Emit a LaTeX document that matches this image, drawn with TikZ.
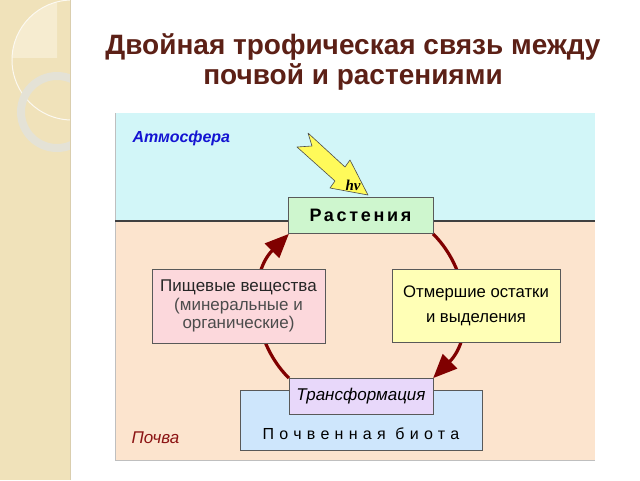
\documentclass[tikz,border=0pt]{standalone}
\usepackage{fontspec}
\setmainfont{Liberation Sans}
\newfontfamily\spacedfont[LetterSpace=15]{Liberation Sans}
\newfontfamily\widefont[LetterSpace=33]{Liberation Sans}
\newfontfamily\serifit{Liberation Serif}
\usetikzlibrary{arrows.meta}
\definecolor{stripbg}{RGB}{240,226,186}
\definecolor{stripli}{RGB}{246,236,208}
\definecolor{ringc}{RGB}{228,226,214}
\definecolor{atmbg}{RGB}{210,246,248}
\definecolor{soilbg}{RGB}{252,228,206}
\definecolor{plantc}{RGB}{206,246,206}
\definecolor{pinkc}{RGB}{252,216,220}
\definecolor{yellowc}{RGB}{255,255,182}
\definecolor{biotac}{RGB}{206,230,252}
\definecolor{transc}{RGB}{232,216,250}
\definecolor{titlec}{RGB}{92,32,22}
\definecolor{arrc}{RGB}{128,0,0}
\definecolor{atmtext}{RGB}{20,20,210}
\definecolor{soiltext}{RGB}{140,20,20}
\definecolor{boltc}{RGB}{255,250,90}
\tikzset{
  box/.style={draw=gray!70!black, line width=0.8pt, inner sep=0pt, align=center},
  cyclearr/.style={draw=arrc, line width=3.2pt, -{Triangle[length=24pt,width=20pt]}},
}
\begin{document}
\begin{tikzpicture}[x=1pt,y=1pt]
\useasboundingbox (0,0) rectangle (640,-480);
\fill[white] (0,0) rectangle (640,-480);
% left decorative strip
\fill[stripbg] (0,0) rectangle (70,-480);
\begin{scope}
\clip (0,0) rectangle (70,-480);
\begin{scope}
\clip (0,0) rectangle (57,-57);
\fill[stripli] (72,-60) circle[radius=60];
\end{scope}
\draw[white!80!stripbg, line width=1pt] (72,-60) circle[radius=60];
\draw[ringc, line width=8pt] (57,-112) circle[radius=36];
\end{scope}
\draw[stripbg!80!gray, line width=1pt] (70,0) -- (70,-480);
% title
\node[font=\bfseries\fontsize{28}{30}\selectfont, text=titlec, align=center] (title) at (353,-62)
  {Двойная трофическая связь между\\почвой и растениями};
% panel
\fill[atmbg] (115,-113) rectangle (595,-221);
\fill[soilbg] (115,-221) rectangle (595,-460);
\draw[gray!50, line width=0.8pt] (115,-113) -- (115,-460) -- (595,-460);
\draw[black!75, line width=1.2pt] (115,-221) -- (595,-221);
\node[anchor=west, font=\bfseries\itshape\fontsize{16}{18}\selectfont, text=atmtext] (atm) at (129,-138) {Атмосфера};
\node[anchor=west, font=\itshape\fontsize{17}{19}\selectfont, text=soiltext] (soil) at (128,-438) {Почва};
% cycle arrows
\coordinate (c) at (361,-306);
\draw[cyclearr] (c) ++(225:102) arc[start angle=225, end angle=135, radius=102];
\draw[cyclearr] (c) ++(45:102) arc[start angle=45, end angle=-45, radius=102];
% boxes
\node[box, fill=plantc, minimum width=145pt, minimum height=36pt,
  font=\spacedfont\bfseries\fontsize{18}{20}\selectfont] (plants) at (360.5,-215) {Растения};
\node[box, fill=pinkc, minimum width=173pt, minimum height=74pt,
  font=\fontsize{17}{18.5}\selectfont] (food) at (238.5,-306)
  {\color{black!85}Пищевые вещества\\\color{black!70}(минеральные и\\\color{black!70}органические)};
\node[box, fill=yellowc, minimum width=168pt, minimum height=73pt,
  font=\fontsize{16.7}{25}\selectfont] (dead) at (476,-305.5)
  {Отмершие остатки\\и выделения};
\node[box, fill=biotac, minimum width=242pt, minimum height=60pt] (biota) at (361,-420) {};
\node[font=\widefont\fontsize{16}{18}\selectfont] (biotatext) at (361,-434) {Почвенная биота};
\node[box, fill=transc, minimum width=144pt, minimum height=36pt,
  font=\itshape\fontsize{17}{19}\selectfont] (trans) at (361,-396) {Трансформация};
% light bolt arrow
\filldraw[fill=boltc, draw=black!70, line width=0.6pt, line join=round]
  (308,-133) -- (345,-167) -- (350,-160) -- (368,-195) -- (330,-188) -- (335,-181)
  -- (297,-147) -- (312,-146) -- cycle;
\node[font=\serifit\itshape\bfseries\fontsize{15}{17}\selectfont] (hv) at (353,-185) {hν};
\end{tikzpicture}
\end{document}
